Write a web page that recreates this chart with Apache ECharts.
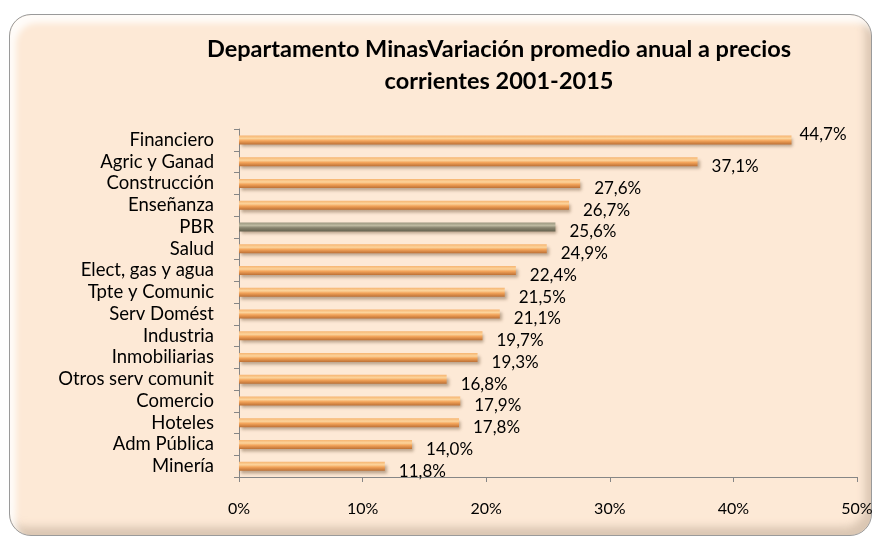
<!DOCTYPE html>
<html><head><meta charset="utf-8">
<script src="https://cdn.jsdelivr.net/npm/echarts@6/dist/echarts.min.js"></script>
<style>
html,body{margin:0;padding:0;background:#fff;}
#frame{position:absolute;left:9px;top:14px;width:861px;height:520px;border-radius:22px;border:1px solid #9a9a9a;
background:#fde9d6;box-shadow:inset 6px 8px 6px rgba(255,255,255,0.85), inset -6px -8px 8px rgba(190,170,150,0.55);}
#chart{position:absolute;left:0;top:0;width:878px;height:542px;}
</style></head>
<body><div id="frame"></div><div id="chart"></div>
<script>
const categories = ["Financiero","Agric y Ganad","Construcción","Enseñanza","PBR","Salud","Elect, gas y agua","Tpte y Comunic","Serv Domést","Industria","Inmobiliarias","Otros serv comunit","Comercio","Hoteles","Adm Pública","Minería"];
const values = [44.7,37.1,27.6,26.7,25.6,24.9,22.4,21.5,21.1,19.7,19.3,16.8,17.9,17.8,14.0,11.8];
const highlight = "PBR";
const xTicks = [0,10,20,30,40,50];

const FONT = "Lato,'Open Sans',sans-serif";
const orange = new echarts.graphic.LinearGradient(0,0,0,1,[
  {offset:0,color:'#f6b36f'},{offset:0.35,color:'#fcd49c'},{offset:0.6,color:'#f3a45a'},{offset:1,color:'#bf7236'}]);
const grey = new echarts.graphic.LinearGradient(0,0,0,1,[
  {offset:0,color:'#9a967e'},{offset:0.35,color:'#bdb9a0'},{offset:0.6,color:'#8a8670'},{offset:1,color:'#66624f'}]);

const chart = echarts.init(document.getElementById('chart'));
chart.setOption({
  backgroundColor:'transparent',
  animation:false,
  title:{
    text:'Departamento MinasVariación promedio anual a precios\ncorrientes 2001-2015',
    left:494, top:28, textAlign:'center',
    textStyle:{fontFamily:FONT,fontWeight:'bold',fontSize:23.5,color:'#000',lineHeight:32}
  },
  grid:{left:239,right:21,top:129,bottom:65,containLabel:false},
  xAxis:{
    type:'value',min:xTicks[0],max:xTicks[xTicks.length-1],interval:10,
    axisLine:{show:true,lineStyle:{color:'#868686'}},
    axisTick:{show:true,length:5,lineStyle:{color:'#868686'}},
    splitLine:{show:false},
    axisLabel:{margin:24,fontFamily:FONT,fontSize:16,color:'#000',formatter:v=>v+'%'}
  },
  yAxis:{
    type:'category',data:categories,inverse:true,
    axisLine:{show:true,lineStyle:{color:'#868686'}},
    axisTick:{show:true,length:5,lineStyle:{color:'#868686'}},
    axisLabel:{interval:0,margin:25,fontFamily:FONT,fontSize:18.5,color:'#000'}
  },
  series:[{
    type:'bar',barWidth:9,
    data:values.map((v,i)=>{
      const item={value:v,itemStyle:{color:categories[i]===highlight?grey:orange}};
      if(i===0) item.label={offset:[-6,-5]};
      return item;
    }),
    itemStyle:{shadowColor:'rgba(90,60,30,0.4)',shadowBlur:3,shadowOffsetX:2,shadowOffsetY:3},
    label:{show:true,position:'right',distance:14,offset:[0,5],fontFamily:FONT,fontSize:17,color:'#000',
      formatter:p=>p.value.toFixed(1).replace('.',',')+'%'}
  }]
});
</script></body></html>
